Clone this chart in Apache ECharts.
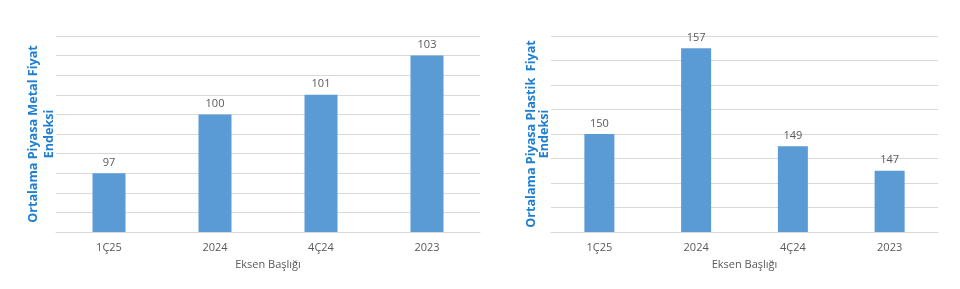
<!DOCTYPE html>
<html>
<head>
<meta charset="utf-8">
<script src="https://cdn.jsdelivr.net/npm/echarts@6/dist/echarts.min.js"></script>
<style>
html,body{margin:0;padding:0;background:#fff;}
#c{width:960px;height:289px;}
</style>
</head>
<body>
<div id="c"></div>
<script>
const categories = ['1Ç25', '2024', '4Ç24', '2023'];
const metalValues = [97, 100, 101, 103];
const plasticValues = [150, 157, 149, 147];
const metalTitle = 'Ortalama Piyasa Metal Fiyat\nEndeksi';
const plasticTitle = 'Ortalama Piyasa Plastik  Fiyat\nEndeksi';
const xTitle = 'Eksen Başlığı';

const FONT = '"Open Sans", sans-serif';
const grid = '#d9d9d9';
const barColor = '#5B9BD5';

function xAx(gi) {
  return {
    type: 'category', gridIndex: gi, data: categories,
    axisLine: {lineStyle: {color: grid}},
    axisTick: {show: false},
    axisLabel: {color: '#595959', fontSize: 11, margin: 10, fontFamily: FONT},
    name: xTitle, nameLocation: 'middle', nameGap: 27,
    nameTextStyle: {color: '#595959', fontSize: 11, fontFamily: FONT}
  };
}
function yAx(gi, min, max, interval, name, lh, gap) {
  return {
    type: 'value', gridIndex: gi, min: min, max: max, interval: interval,
    axisLabel: {show: false}, axisLine: {show: false}, axisTick: {show: false},
    splitLine: {lineStyle: {color: grid, width: 1}},
    name: name, nameLocation: 'middle', nameGap: gap, nameRotate: 90,
    nameTextStyle: {color: '#1F7FD0', fontSize: 12.6, fontWeight: 'bold', fontFamily: FONT, lineHeight: lh}
  };
}
function ser(gi, data, bw) {
  return {
    type: 'bar', xAxisIndex: gi, yAxisIndex: gi, data: data, barWidth: bw,
    itemStyle: {color: barColor},
    label: {show: true, position: 'top', distance: 5, color: '#595959', fontSize: 11, fontFamily: FONT},
    animation: false
  };
}

const chart = echarts.init(document.getElementById('c'), null, {renderer: 'canvas'});
chart.setOption({
  animation: false,
  grid: [
    {left: 56, right: 480, top: 36, bottom: 57},
    {left: 551, right: 22, top: 36, bottom: 57}
  ],
  xAxis: [xAx(0), xAx(1)],
  yAxis: [
    yAx(0, 94, 104, 1, metalTitle, 16, -1),
    yAx(1, 142, 158, 2, plasticTitle, 13, 0)
  ],
  series: [ser(0, metalValues, 33), ser(1, plasticValues, 30)]
});
</script>
</body>
</html>
